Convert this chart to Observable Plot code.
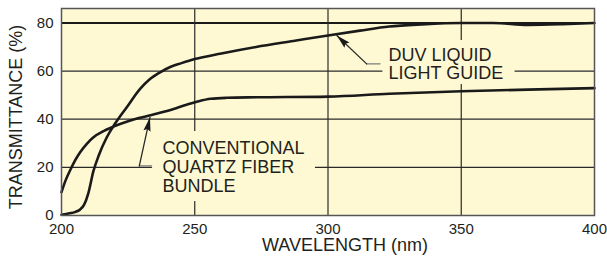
<!DOCTYPE html>
<html><head><meta charset="utf-8">
<script src="https://cdn.jsdelivr.net/npm/d3@7"></script>
<script src="https://cdn.jsdelivr.net/npm/@observablehq/plot@0.6"></script>
<style>html,body{margin:0;padding:0;background:#fff}</style>
</head><body><div id="chart"></div>
<script>
// ---- data ----
const xTicks = [200, 250, 300, 350, 400];
const yTicks = [0, 20, 40, 60, 80];
const gridX = [250, 300, 350];
const gridY = [20, 40, 60];
const gridYTop = [80];

const duvWavelength = [200, 203, 205, 207, 208.5, 210, 212, 214, 217, 220, 224.5, 229.5, 233, 237, 241, 245, 250, 260, 273, 287, 300, 312, 323, 335, 350, 362, 375, 388, 400];
const duvTransmittance = [0.3, 0.9, 1.4, 2.5, 4.5, 9, 18.5, 25, 32.5, 38, 45, 52.6, 56.5, 59.5, 61.8, 63.3, 65, 67.3, 70, 72.5, 74.8, 76.8, 78.5, 79.4, 80, 80, 79.2, 79.5, 80];

const quartzWavelength = [200, 201.5, 203.2, 205, 207, 209.5, 212, 216, 220, 225, 229, 233, 238, 243, 248, 251.5, 256, 262, 273, 300, 323, 350, 375, 400];
const quartzTransmittance = [9.7, 14.5, 18.7, 22.7, 26.3, 29.8, 32.5, 35.2, 37.2, 39.2, 40.5, 41.5, 43, 44.6, 46.4, 47.5, 48.5, 48.9, 49.1, 49.4, 50.6, 51.6, 52.3, 52.9];

const labelTexts = ["DUV LIQUID\nLIGHT GUIDE", "CONVENTIONAL\nQUARTZ FIBER\nBUNDLE"];
const labelX = [322.7, 237.9];
const labelY = [69.8, 31.2];
const labelLineHeight = [1.03, 1.06];
const boxX1 = [320.6, 234.1];
const boxX2 = [370.2, 295.3];
const boxY1 = [54.4, 5.8];
const boxY2 = [72.7, 34.9];
const arrowTipX = [303.3, 233.2];
const arrowTipY = [74.8, 40.8];
const arrowTailX = [314.5, 229.2];
const arrowTailY = [63.0, 20.6];
const elbowX = [319.5, 233.8];

const xLabel = "WAVELENGTH (nm)";
const yLabel = "TRANSMITTANCE (%)";

// ---- layout ----
const W = 607, H = 261;
const mL = 61, mR = 13, mT = 8, mB = 46;
const xDomain = [200, 400], yDomain = [0, 86];
const bg = "#fef9d3";
const ink = "#231f20";
const font = "Liberation Sans, Arial, Helvetica, sans-serif";

const duv = duvWavelength.map((w, i) => ({w, t: duvTransmittance[i]}));
const quartz = quartzWavelength.map((w, i) => ({w, t: quartzTransmittance[i]}));
const boxes = boxX1.map((_, i) => ({x1: boxX1[i], x2: boxX2[i], y1: boxY1[i], y2: boxY2[i]}));

// screen-space replicas to orient the arrowheads
const sx = d3.scaleLinear(xDomain, [mL, W - mR]);
const sy = d3.scaleLinear(yDomain, [H - mB, mT]);
function headSymbol(i) {
  const dx = sx(arrowTipX[i]) - sx(arrowTailX[i]);
  const dy = sy(arrowTipY[i]) - sy(arrowTailY[i]);
  const n = Math.hypot(dx, dy), ux = dx / n, uy = dy / n;
  const L = 14, Wd = 3.6;
  return {
    draw(ctx) {
      ctx.moveTo(0, 0);
      ctx.lineTo(-ux * L - uy * Wd, -uy * L + ux * Wd);
      ctx.lineTo(-ux * L * 0.85, -uy * L * 0.85);
      ctx.lineTo(-ux * L + uy * Wd, -uy * L - ux * Wd);
      ctx.closePath();
    }
  };
}

const marks = [
  Plot.frame({fill: bg, stroke: null}),
  Plot.ruleY(gridY, {stroke: "#2a2a2a", strokeWidth: 1.2}),
  Plot.ruleY(gridYTop, {stroke: "#1a1a1a", strokeWidth: 2}),
  Plot.ruleX(gridX, {stroke: "#2a2a2a", strokeWidth: 1.2}),
  Plot.line(duv, {x: "w", y: "t", curve: "monotone-x", stroke: "#1a1a1a", strokeWidth: 2.6}),
  Plot.line(quartz, {x: "w", y: "t", curve: "monotone-x", stroke: "#1a1a1a", strokeWidth: 2.6}),
  Plot.rect(boxes, {x1: "x1", x2: "x2", y1: "y1", y2: "y2", fill: bg}),
];
labelTexts.forEach((txt, i) => {
  marks.push(Plot.line([[arrowTailX[i], arrowTailY[i]], [elbowX[i], arrowTailY[i]]], {stroke: "#7a7a7a", strokeWidth: 1.4}));
  marks.push(Plot.line([[arrowTailX[i], arrowTailY[i]], [arrowTipX[i], arrowTipY[i]]], {stroke: "#2a2a2a", strokeWidth: 1.3}));
  marks.push(Plot.dot([[arrowTipX[i], arrowTipY[i]]], {symbol: headSymbol(i), r: 5, fill: "#1a1a1a", stroke: "none"}));
  marks.push(Plot.text([txt], {x: () => labelX[i], y: () => labelY[i], textAnchor: "start", lineAnchor: "top",
    lineHeight: labelLineHeight[i], fontSize: 18, fill: ink, fontFamily: font}));
});
marks.push(
  Plot.frame({stroke: "#555", strokeWidth: 1.5}),
  Plot.text([yLabel], {frameAnchor: "left", textAnchor: "middle", lineAnchor: "middle", rotate: -90, dx: -45, dy: 5, fontSize: 18, fill: ink, fontFamily: font}),
  Plot.text([xLabel], {frameAnchor: "bottom", textAnchor: "middle", lineAnchor: "middle", dx: 17, dy: 30, fontSize: 18, fill: ink, fontFamily: font})
);

const chart = Plot.plot({
  width: W, height: H,
  marginLeft: mL, marginRight: mR, marginTop: mT, marginBottom: mB,
  style: {fontFamily: font, fontSize: "15px", color: ink, background: "#fff"},
  x: {domain: xDomain, ticks: xTicks, tickSize: 0, tickPadding: 8, label: null},
  y: {domain: yDomain, ticks: yTicks, tickSize: 0, tickPadding: 8, label: null},
  marks
});
document.getElementById("chart").appendChild(chart);
</script>
</body></html>
